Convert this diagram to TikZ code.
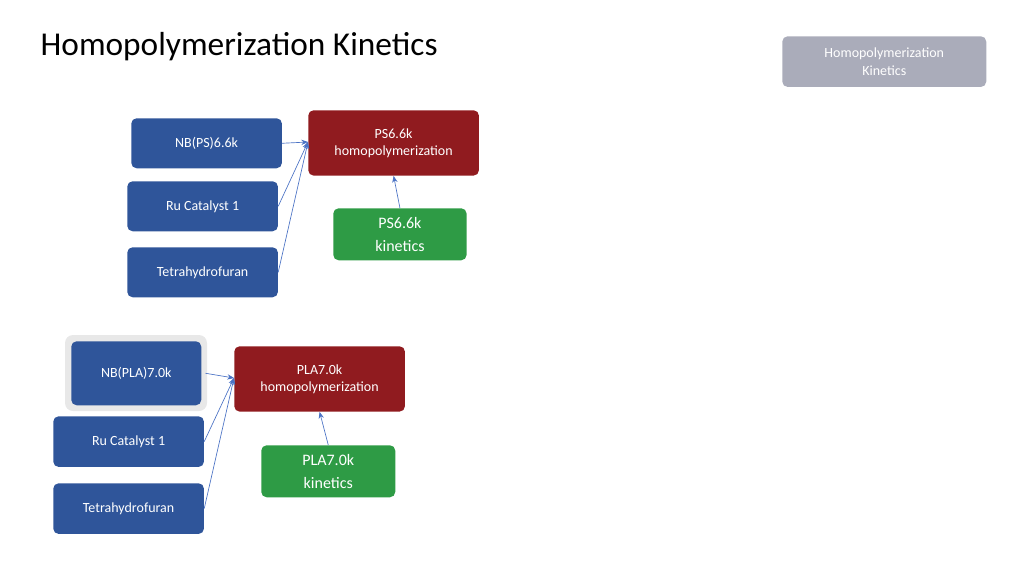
\documentclass[tikz,border=0pt]{standalone}
\usepackage{fontspec}
\setmainfont{Carlito}
\usetikzlibrary{arrows.meta}
\definecolor{bblue}{HTML}{2F559A}
\definecolor{rred}{HTML}{901B1F}
\definecolor{ggreen}{HTML}{2E9B45}
\definecolor{ggray}{HTML}{AAACBA}
\definecolor{aline}{HTML}{4A72C4}
\begin{document}
\begin{tikzpicture}[x=0.75pt,y=-0.75pt,
 box/.style={rounded corners=4pt,text=white,align=center,font=\fontsize{10.5}{13}\selectfont,inner sep=0pt},
 con/.style={draw=aline,line width=0.5pt,-{Stealth[length=5pt,width=4pt]}}]
\useasboundingbox (0,0) rectangle (1024,576);
\node[anchor=west,font=\fontsize{25}{30}\selectfont] (title) at (36,47) {Homopolymerization Kinetics};
\newcommand{\bx}[6]{\path[box,fill=#2] (#3,#4) rectangle (#5,#6) node[midway,box] (#1) {};}
\node[box,fill=ggray,minimum width=153pt,minimum height=38pt,anchor=north west] (tag) at (782,36) {Homopolymerization\\Kinetics};
% group 1
\node[box,fill=bblue,minimum width=113pt,minimum height=37.5pt,anchor=north west] (nb1) at (131,118) {NB(PS)6.6k};
\node[box,fill=bblue,minimum width=113pt,minimum height=37.5pt,anchor=north west] (ru1) at (127,181) {Ru Catalyst 1};
\node[box,fill=bblue,minimum width=113pt,minimum height=37.5pt,anchor=north west] (th1) at (127,247) {Tetrahydrofuran};
\node[box,fill=rred,minimum width=128pt,minimum height=49pt,anchor=north west] (h1) at (308,110) {PS6.6k\\homopolymerization};
\node[box,fill=ggreen,minimum width=100pt,minimum height=39pt,anchor=north west,font=\fontsize{12}{17}\selectfont] (k1) at (333,208) {PS6.6k\\kinetics};
\coordinate (p1) at (308,142);
\draw[con] (nb1.east) -- (p1);
\draw[con] (ru1.east) -- (p1);
\draw[con] (th1.east) -- (p1);
\draw[con] (k1.north) -- (h1.south);
% group 2
\fill[rounded corners=6pt,fill=gray!18] (65,335) rectangle (207,411);
\node[box,fill=bblue,minimum width=97.5pt,minimum height=48pt,anchor=north west] (nb2) at (71,341) {NB(PLA)7.0k};
\node[box,fill=bblue,minimum width=113pt,minimum height=38pt,anchor=north west] (ru2) at (53,416) {Ru Catalyst 1};
\node[box,fill=bblue,minimum width=113pt,minimum height=38pt,anchor=north west] (th2) at (53,483) {Tetrahydrofuran};
\node[box,fill=rred,minimum width=128pt,minimum height=49pt,anchor=north west] (h2) at (234,346) {PLA7.0k\\homopolymerization};
\node[box,fill=ggreen,minimum width=100.5pt,minimum height=39pt,anchor=north west,font=\fontsize{12}{17}\selectfont] (k2) at (261,445) {PLA7.0k\\kinetics};
\coordinate (p2) at (234,378);
\draw[con] ([xshift=3pt]nb2.east) -- (p2);
\draw[con] (ru2.east) -- (p2);
\draw[con] (th2.east) -- (p2);
\draw[con] (k2.north) -- (h2.south);
\end{tikzpicture}
\end{document}
